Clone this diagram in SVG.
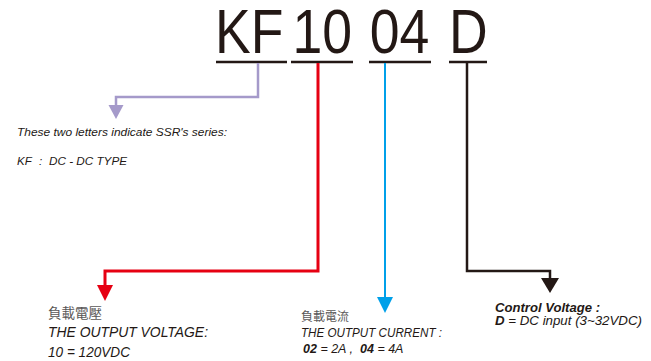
<svg xmlns="http://www.w3.org/2000/svg" width="651" height="361" viewBox="0 0 651 361">
<style>
.big{font-family:"Liberation Sans",Arial,sans-serif;font-size:63px;fill:#231815}
.ul{stroke:#231815;stroke-width:2.5;fill:none}
.t{font-family:"Liberation Sans",Arial,sans-serif;font-style:italic;fill:#231815}
.cjk{font-family:"Noto Sans CJK TC","Noto Sans CJK SC",sans-serif;fill:#595757}
.b{font-weight:bold}
.ln{fill:none;stroke-linejoin:miter}
</style>
<rect width="651" height="361" fill="#ffffff"/>
<g id="code-KF">
<text class="big" x="215" y="53" textLength="68.4" lengthAdjust="spacingAndGlyphs">KF</text>
<line class="ul" x1="216" y1="62" x2="287" y2="62"/>
</g>
<g id="code-10">
<text class="big" x="292.5" y="53" textLength="59.6" lengthAdjust="spacingAndGlyphs">10</text>
<line class="ul" x1="291" y1="62" x2="353" y2="62"/>
</g>
<g id="code-04">
<text class="big" x="369.7" y="53" textLength="59.6" lengthAdjust="spacingAndGlyphs">04</text>
<line class="ul" x1="369" y1="62" x2="431" y2="62"/>
</g>
<g id="code-D">
<text class="big" x="449" y="53" textLength="38.7" lengthAdjust="spacingAndGlyphs">D</text>
<line class="ul" x1="449" y1="62" x2="487" y2="62"/>
</g>
<g id="connectors">
<polyline class="ln" stroke="#a59aca" stroke-width="2.5" points="258,63 258,97 116,97 116,106"/>
<polygon fill="#a59aca" points="108.5,105 123.5,105 116,119"/>
<polyline class="ln" stroke="#e60012" stroke-width="3" points="318,63 318,271 105,271 105,286"/>
<polygon fill="#e60012" points="97,285 113,285 105,301"/>
<polyline class="ln" stroke="#00a0e9" stroke-width="2" points="385,63 385,298"/>
<polygon fill="#00a0e9" points="377,297 393,297 385,313"/>
<polyline class="ln" stroke="#231815" stroke-width="2.5" points="467,63 467,271 550,271 550,279"/>
<polygon fill="#231815" points="541,278 559,278 550,293"/>
</g>
<g id="label-series">
<text class="t" x="17" y="136" font-size="11.5" textLength="210" lengthAdjust="spacingAndGlyphs">These two letters indicate SSR's series:</text>
<text class="t" y="165" font-size="11.5"><tspan x="17">KF</tspan><tspan x="39">:</tspan><tspan x="49" textLength="78" lengthAdjust="spacingAndGlyphs">DC - DC TYPE</tspan></text>
</g>
<g id="label-voltage">
<text class="cjk" x="48" y="318" font-size="13.5">負載電壓</text>
<text class="t" x="48" y="337" font-size="14.5" textLength="160" lengthAdjust="spacingAndGlyphs">THE OUTPUT VOLTAGE:</text>
<text class="t" x="48" y="357" font-size="14.5" textLength="82" lengthAdjust="spacingAndGlyphs">10 = 120VDC</text>
</g>
<g id="label-current">
<text class="cjk" x="301" y="321" font-size="12">負載電流</text>
<text class="t" x="301" y="337" font-size="12.5" textLength="141" lengthAdjust="spacingAndGlyphs">THE OUTPUT CURRENT :</text>
<text class="t" y="353" font-size="12.5"><tspan x="303" class="b">02</tspan><tspan> = 2A  ,</tspan><tspan x="360" class="b">04</tspan><tspan> = 4A</tspan></text>
</g>
<g id="label-control">
<text class="t b" x="495" y="311.5" font-size="12.5" textLength="105" lengthAdjust="spacingAndGlyphs">Control Voltage :</text>
<text class="t" x="495" y="325" font-size="12.5" textLength="147" lengthAdjust="spacingAndGlyphs"><tspan class="b">D</tspan> = DC input (3~32VDC)</text>
</g>
</svg>
